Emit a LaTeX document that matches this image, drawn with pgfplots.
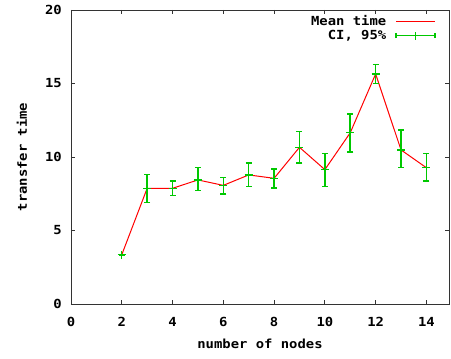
\documentclass[border=0pt]{standalone}
\usepackage{fontspec}
\setmonofont{DejaVu Sans Mono}[FakeStretch=1.11]
\usepackage{pgfplots}
\pgfplotsset{compat=1.18}
\definecolor{gpgreen}{RGB}{0,200,0}
\definecolor{gpred}{RGB}{255,0,0}
\newcommand{\gpfont}{\ttfamily\bfseries\fontsize{12.5bp}{14bp}\selectfont}
\begin{document}
\begin{tikzpicture}
\path[use as bounding box] (-71bp,-55bp) rectangle (380bp,304bp);
\begin{axis}[
  scale only axis,
  width=378bp, height=294bp,
  xmin=0, xmax=14.89, ymin=0, ymax=20,
  xtick={0,2,...,14}, ytick={0,5,...,20},
  tick align=inside,
  major tick length=4bp,
  tick style={black!80, line width=0.8bp},
  axis line style={black!80, line width=0.8bp},
  /pgf/number format/assume math mode=true,
  ticklabel style={font=\gpfont, inner sep=0pt},
  xticklabel style={anchor=center, yshift=-18bp},
  yticklabel style={anchor=east, xshift=-9bp},
  xlabel={number of nodes},
  ylabel={transfer time},
  label style={font=\gpfont},
  xlabel style={at={([yshift=-40bp]axis description cs:0.5,0)}, anchor=center},
  ylabel style={at={([xshift=-49bp]axis description cs:0,0.5)}, anchor=center},
  legend cell align=right,
  legend plot pos=right,
  legend style={draw=none, fill=none, at={([xshift=-13bp,yshift=-6bp]rel axis cs:1,1)}, anchor=north east,
    inner sep=0pt, column sep=9bp, row sep=3bp, font=\gpfont,
    nodes={inner sep=0pt, text height=9bp, text depth=2bp}},
]
\addplot[gpred, line width=1bp, no marks,
  /pgfplots/legend image code/.code={\draw[draw=gpred, line width=1.5bp] (0bp,0bp) -- (39bp,0bp);}]
coordinates {
(2,3.35) (3,7.87) (4,7.87) (5,8.44) (6,8.07) (7,8.78) (8,8.55) (9,10.66) (10,9.14) (11,11.65) (12,15.65) (13,10.48) (14,9.27)
};
\addlegendentry{Mean time}
\addplot[gpgreen, line width=1.5bp, only marks, mark=+, mark size=4bp,
  mark options={line width=1.2bp},
  error bars/.cd, y dir=both, y explicit,
  error mark=|,
  error bar style={gpgreen, line width=1.5bp},
  error mark options={gpgreen, mark size=3bp, line width=1.5bp},
  /pgfplots/legend image code/.code={
    \draw[gpgreen, line width=1.2bp] (0bp,0bp) -- (39bp,0bp);
    \draw[gpgreen, line width=1.2bp] (0bp,-2.5bp) -- (0bp,2.5bp);
    \draw[gpgreen, line width=1.2bp] (39bp,-2.5bp) -- (39bp,2.5bp);
    \draw[gpgreen, line width=1.2bp] (19.5bp,-4bp) -- (19.5bp,4bp);}]
coordinates {
(2,3.35) += (0,0) -= (0,0)
(3,7.87) += (0,0.93) -= (0,0.95)
(4,7.87) += (0,0.50) -= (0,0.48)
(5,8.44) += (0,0.83) -= (0,0.73)
(6,8.07) += (0,0.52) -= (0,0.59)
(7,8.78) += (0,0.81) -= (0,0.80)
(8,8.55) += (0,0.63) -= (0,0.66)
(9,10.66) += (0,1.06) -= (0,1.07)
(10,9.14) += (0,1.11) -= (0,1.16)
(11,11.65) += (0,1.29) -= (0,1.31)
(12,15.65) += (0,0.65) -= (0,0.64)
(13,10.48) += (0,1.34) -= (0,1.21)
(14,9.27) += (0,0.98) -= (0,0.90)
};
\addlegendentry{CI, 95\%}
\end{axis}
\end{tikzpicture}
\end{document}
